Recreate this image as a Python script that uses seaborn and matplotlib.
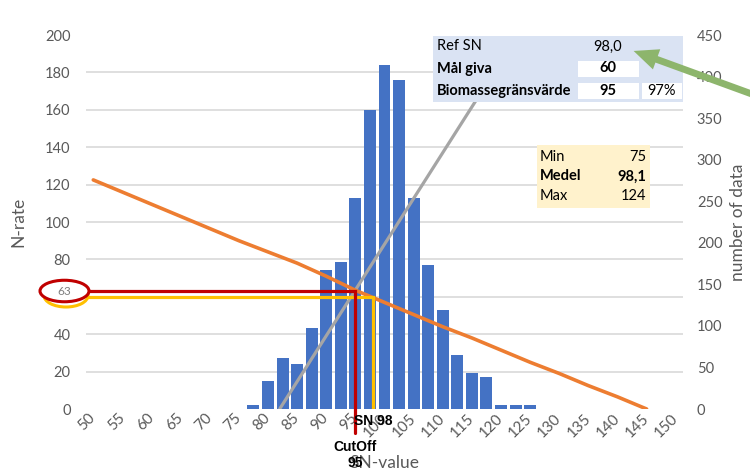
import matplotlib
matplotlib.use("Agg")
import numpy as np
import matplotlib.pyplot as plt
from matplotlib.patches import Rectangle, Ellipse, FancyArrowPatch
import seaborn as sns

# histogram of SN-values (bin centre -> number of data)
sn_bins = [77.5, 80, 82.5, 85, 87.5, 90, 92.5, 95, 97.5, 100,
           102.5, 105, 107.5, 110, 112.5, 115, 117.5, 120, 122.5, 125]
sn_counts = [5, 34, 61, 54, 97, 167, 177, 254, 360, 414,
             396, 254, 173, 119, 65, 43, 38, 5, 5, 5]

# N-rate response line
nrate_x = [50, 55, 60, 65, 70, 75, 80, 85, 90, 95,
           100, 105, 110, 115, 120, 125, 130, 135, 140, 145]
nrate_y = [122.5, 116, 109.5, 103, 96.5, 90, 84, 78, 71, 63.5,
           57, 50.5, 44, 38, 31.5, 25, 19, 12.5, 6.5, 0]

# grey trend line
trend_x = [82, 120]
trend_y = [0, 186]

x_ticks = [50, 55, 60, 65, 70, 75, 80, 85, 90, 95, 100,
           105, 110, 115, 120, 125, 130, 135, 140, 145, 150]
y_ticks = [0, 20, 40, 60, 80, 100, 120, 140, 160, 180, 200]
y_tick_labels = ["0", "20", "40", "", "80", "100", "120", "140", "160", "180", "200"]

cutoff = 95
cutoff_rate = 63
ref_sn = 98
target_rate = 60

ref_rows = [("Ref SN", "98,0", ""), ("Mål giva", "60", ""), ("Biomassegränsvärde", "95", "97%")]
stat_rows = [("Min", "75"), ("Medel", "98,1"), ("Max", "124")]

W, H = 750, 473
BLUE = "#4472C4"
ORANGE = "#ED7D31"
GREY = "#A5A5A5"
RED = "#C00000"
GOLD = "#FFC000"
TXT = "#595959"
GRID = "#D9D9D9"

sns.set_style("white")
plt.rcParams["font.family"] = ["Lato", "DejaVu Sans"]


def px(x, y):
    return x / W, 1 - y / H


fig = plt.figure(figsize=(W / 100, H / 100), dpi=100)
ax = fig.add_axes([86 / W, 1 - 409 / H, 597 / W, 374 / H])
ax_cnt = ax.twinx()
ax.set_zorder(ax_cnt.get_zorder() + 1)
ax.patch.set_visible(False)

sns.barplot(x=sn_bins, y=sn_counts, native_scale=True, color=BLUE, saturation=1,
            width=0.82, linewidth=0, errorbar=None, ax=ax_cnt)

sns.lineplot(x=trend_x, y=trend_y, color=GREY, linewidth=2.3, ax=ax)
sns.lineplot(x=nrate_x, y=nrate_y, color=ORANGE, linewidth=2.6, ax=ax)

xmin, xmax = 48.75, 151.25
ax.plot([xmin, ref_sn, ref_sn], [target_rate, target_rate, 0], color=GOLD, lw=2.3,
        solid_joinstyle="miter")
ax.plot([xmin, cutoff, cutoff], [cutoff_rate, cutoff_rate, -12.8], color=RED, lw=2.3,
        solid_joinstyle="miter", clip_on=False)

ax.set_xlim(xmin, xmax)
ax.set_ylim(0, 200)
ax_cnt.set_ylim(0, 450)
ax.set_yticks(y_ticks, y_tick_labels)
ax_cnt.set_yticks(range(0, 451, 50))
ax_cnt.set_yticks(np.arange(0, 451, 45), minor=True)
ax_cnt.grid(which="minor", axis="y", color=GRID, lw=1.2)
ax_cnt.grid(which="major", visible=False)
ax.grid(False)

ax.set_xticks(x_ticks)
ax.tick_params(axis="x", length=0, pad=5, labelsize=11, labelcolor=TXT)
for lbl in ax.get_xticklabels():
    lbl.set_rotation(45)
    lbl.set_ha("right")
    lbl.set_va("center")
    lbl.set_rotation_mode("anchor")
ax.tick_params(axis="y", length=0, pad=11, labelsize=10.5, labelcolor=TXT)
ax_cnt.tick_params(axis="y", which="both", length=0, pad=10, labelsize=10.5, labelcolor=TXT)

for a in (ax, ax_cnt):
    for s in a.spines.values():
        s.set_visible(False)

ax.set_xlabel("SN-value", fontsize=12.5, color=TXT, va="center")
ax.xaxis.set_label_coords(0.5, -0.145)
ax.set_ylabel("N-rate", fontsize=12.5, color=TXT, va="center")
ax.yaxis.set_label_coords(-0.114, 0.5)
ax_cnt.set_ylabel("number of data", fontsize=12.5, color=TXT, va="center", rotation=90)
ax_cnt.yaxis.set_label_coords(1.092, 0.5)

# labels under the cut-off / SN markers
lab = dict(xycoords=("data", "axes fraction"), textcoords="offset points", ha="center",
           va="center", fontsize=10, fontweight="bold", family="Liberation Sans", color="black",
           annotation_clip=False)
ax.annotate(f"SN {ref_sn}", xy=(ref_sn, 0), xytext=(0, -8.5), **lab)
ax.annotate("CutOff", xy=(cutoff, 0), xytext=(0, -27), **lab)
ax.annotate(f"{cutoff}", xy=(cutoff, 0), xytext=(0, -39), **lab)

# ellipses around the cut-off rate on the left axis
fig.patches.append(Ellipse(px(66, 295.5), 44 / W, 23 / H, transform=fig.transFigure,
                           facecolor="none", edgecolor=GOLD, lw=2.2))
fig.patches.append(Ellipse(px(64.5, 291), 49 / W, 21.5 / H, transform=fig.transFigure,
                           facecolor="white", edgecolor=RED, lw=2.2))
fig.text(*px(64.5, 291.5), f"{cutoff_rate}", ha="center", va="center", fontsize=8.5, color="#7F7F7F")

# reference table (top right)
fig.patches.append(Rectangle(px(433, 102), 250 / W, 66 / H, transform=fig.transFigure,
                             facecolor="#DAE3F3", edgecolor="none"))
for x0, y0, w, h in [(578, 61, 61, 16), (578, 82.5, 61, 16.5), (642, 82.5, 40, 16.5)]:
    fig.patches.append(Rectangle(px(x0, y0 + h), w / W, h / H, transform=fig.transFigure,
                                 facecolor="white", edgecolor="none"))
row_y = [46.5, 68.5, 90.5]
for (name, val, pct), y in zip(ref_rows, row_y):
    bold = "normal" if name == "Ref SN" else "bold"
    fig.text(*px(437, y), name, ha="left", va="center", fontsize=10.5, fontweight=bold, color="black")
    fig.text(*px(608, y), val, ha="center", va="center", fontsize=10.5, fontweight=bold, color="black")
    if pct:
        fig.text(*px(676, y), pct, ha="right", va="center", fontsize=10.5, color="black")

# min / mean / max box
fig.patches.append(Rectangle(px(537, 208), 113 / W, 63 / H, transform=fig.transFigure,
                             facecolor="#FFF2CC", edgecolor="none"))
for (name, val), y in zip(stat_rows, [156.5, 176.5, 196.5]):
    bold = "bold" if name == "Medel" else "normal"
    fig.text(*px(540, y), name, ha="left", va="center", fontsize=10.5, fontweight=bold, color="black")
    fig.text(*px(646, y), val, ha="right", va="center", fontsize=10.5, fontweight=bold, color="black")

# green pointer arrow
fig.patches.append(FancyArrowPatch(px(760, 97), px(631, 50), transform=fig.transFigure,
                                   arrowstyle="simple,head_length=1.6,head_width=1.4,tail_width=0.45",
                                   mutation_scale=11, color="#8DB56C", lw=0))

fig.savefig("out.png", dpi=100)
